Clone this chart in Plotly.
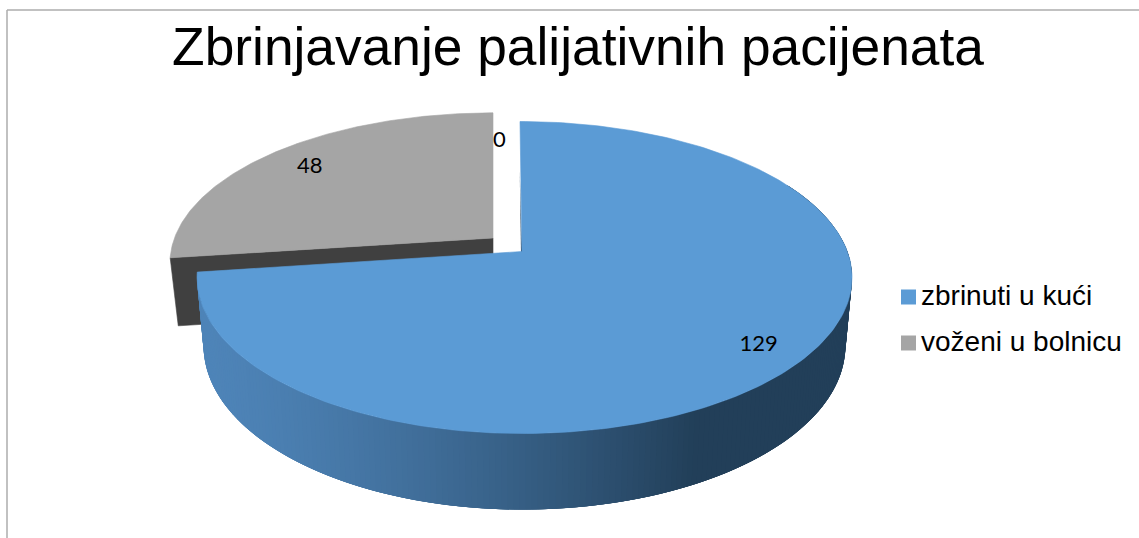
import math
import plotly.graph_objects as go

TITLE = "Zbrinjavanje palijativnih pacijenata"
categories = ["zbrinuti u kući", "voženi u bolnicu", ""]
values = [129, 48, 0]
top_colors = ["#5B9BD5", "#A5A5A5", "#A5A5A5"]
FACE_DARK = "#404040"
SIDE_LIGHT = (0x4E, 0x84, 0xB8)
SIDE_DARK = (0x22, 0x3F, 0x59)

W, H = 1139, 538
TILT = 1 / 6
BLUE = dict(x0=522, y0=251.5, ar=325.4, al=320.4, b=151.67, dy=67, sx=0.98, sy=1.05, shear=-2)
GRAY = dict(x0=493, y0=238, ar=325.4, al=318.5, b=146.0, dy=68, sx=0.975, sy=1.0, shear=0)


def project(g, theta, r=1.0, bottom=False):
    """Clockwise angle from 12 o'clock on the pie disc -> chart coordinates."""
    u, v = r * math.sin(theta), r * math.cos(theta)
    w = 1 + TILT * v
    a = g["ar"] if u > 0 else g["al"]
    x, y = a * u / w + g["shear"] * max(v, 0), g["b"] * v / w
    if bottom:
        return g["x0"] + x * g["sx"], g["y0"] + g["dy"] - y * g["sy"]
    return g["x0"] + x, g["y0"] - y


def angle(v):
    return 2 * math.pi * v / sum(values)


def arc(g, a0, a1, n=160, bottom=False):
    return [project(g, a0 + (a1 - a0) * i / n, 1.0, bottom) for i in range(n + 1)]


def poly(pts, color, lw=0.6):
    xs = [p[0] for p in pts] + [pts[0][0]]
    ys = [p[1] for p in pts] + [pts[0][1]]
    return go.Scatter(x=xs, y=ys, mode="lines", fill="toself", fillcolor=color,
                      line=dict(color=color, width=lw), hoverinfo="skip", showlegend=False)


fig = go.Figure()
end_blue = angle(values[0])
end_gray = end_blue + angle(values[1])

# exploded grey wedge: cut face, then top
edge_top = project(GRAY, end_blue)
edge_bot = project(GRAY, end_blue, 1.0, True)
apex_top = project(GRAY, 0, 0)
apex_bot = project(GRAY, 0, 0, True)
fig.add_trace(poly([apex_top, edge_top, edge_bot, apex_bot], FACE_DARK))
fig.add_trace(poly([apex_top] + arc(GRAY, end_blue, end_gray), top_colors[1]))

# blue cut face at 12 o'clock
blue_tip = project(BLUE, 0)
fig.add_trace(poly([project(BLUE, 0, 0), (blue_tip[0] - 0.3, blue_tip[1] + 48),
                    project(BLUE, 0, 0, True)], "#2A4A68", lw=0))

# blue outer wall, shaded left to right; each slice overlaps the previous one
STEPS = 220
a_start, a_end = math.radians(62), end_blue
step = (a_end - a_start) / STEPS
for i in range(STEPS):
    a0 = a_start + step * i
    a1 = a0 + step
    back = max(a_start, a0 - 3 * step)
    mid_x = (project(BLUE, a0)[0] + project(BLUE, a1)[0]) / 2
    t = min(1, max(0, (mid_x - 200) / 480)) ** 1.3
    rgb = [round(SIDE_LIGHT[k] + (SIDE_DARK[k] - SIDE_LIGHT[k]) * t) for k in range(3)]
    p0, p1 = project(BLUE, back), project(BLUE, a1)
    q0, q1 = project(BLUE, back, 1.0, True), project(BLUE, a1, 1.0, True)
    fig.add_trace(poly([p0, p1, q1, q0], "rgb(%d,%d,%d)" % tuple(rgb), lw=0))

# blue top
fig.add_trace(poly([project(BLUE, 0, 0)] + arc(BLUE, 0, end_blue, 240), top_colors[0]))

# data labels
label_spec = [(BLUE, end_blue / 2, 0.84, 10, 2),
              (GRAY, end_blue + angle(values[1]) / 2, 0.8, -7, 0),
              (BLUE, 0.0, 0.85, -21, 3)]
lx, ly, lt = [], [], []
for (g, th, r, dx, dy), val in zip(label_spec, values):
    p = project(g, th, r)
    lx.append(p[0] + dx)
    ly.append(p[1] + dy)
    lt.append(str(val))
fig.add_trace(go.Scatter(x=lx, y=ly, text=lt, mode="text", textposition="middle center",
                         textfont=dict(family="Lato", size=22, color="#000000"),
                         hoverinfo="skip", showlegend=False))

# legend column
leg_y = [297, 343]
fig.add_trace(go.Scatter(x=[908.5, 908.5], y=leg_y, mode="markers",
                         marker=dict(symbol="square", size=15, color=top_colors[:2], line=dict(width=0)),
                         hoverinfo="skip", showlegend=False))
fig.add_trace(go.Scatter(x=[921, 921], y=[leg_y[0] + 1, leg_y[1] + 1], text=categories[:2], mode="text",
                         textposition="middle right",
                         textfont=dict(family="Liberation Sans", size=28, color="#000000"),
                         hoverinfo="skip", showlegend=False))

axis = dict(visible=False, fixedrange=True)
fig.update_layout(
    width=W, height=H, margin=dict(l=0, r=0, t=0, b=0),
    paper_bgcolor="white", plot_bgcolor="white", showlegend=False,
    xaxis=dict(range=[0, W], **axis),
    yaxis=dict(range=[H, 0], **axis),
    title=dict(text=TITLE, x=578 / W, xanchor="center", xref="paper",
               y=1 - 46 / H, yanchor="middle", yref="container",
               font=dict(family="Liberation Sans", size=53.3, color="#000000")),
    shapes=[dict(type="line", xref="x", yref="y", x0=7, x1=7, y0=10, y1=H,
                 line=dict(color="#ADADAD", width=1.5), layer="below"),
            dict(type="line", xref="x", yref="y", x0=7, x1=W, y0=10, y1=10,
                 line=dict(color="#ADADAD", width=1.5), layer="below")],
)
fig.write_html("out.html", config=dict(displayModeBar=False),
               post_script="document.body.style.margin='0';document.body.style.overflow='hidden';")
